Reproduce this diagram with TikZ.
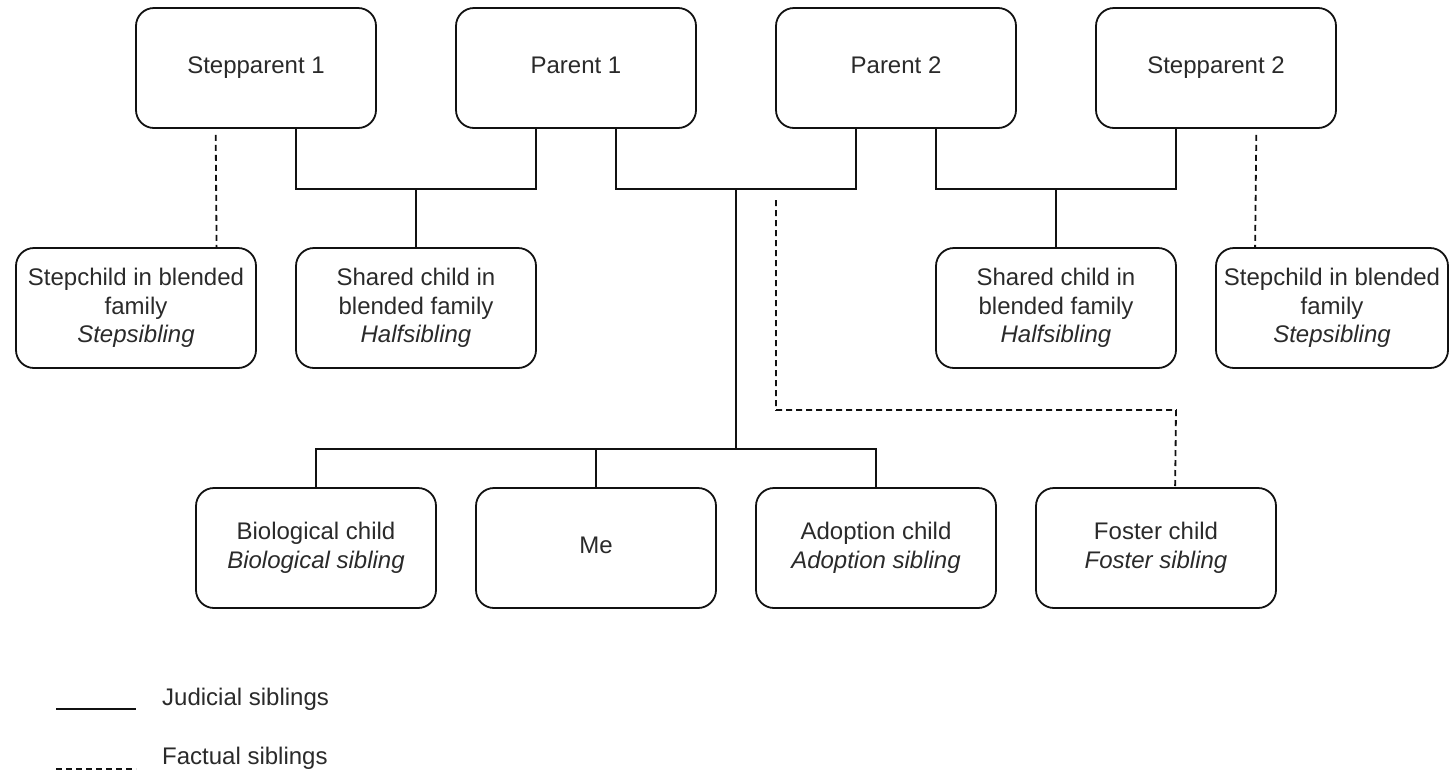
\documentclass[tikz,border=0pt]{standalone}
\usepackage{fontspec}
\setmainfont{Liberation Sans}
\usetikzlibrary{calc}
\definecolor{txt}{HTML}{2A2A2A}
\definecolor{ln}{HTML}{111111}
\tikzset{
  famBox/.style={draw=ln, rounded corners=18pt, minimum width=240pt, minimum height=120pt,
    align=center, inner sep=0pt, line width=1.8pt, text=txt,
    font=\fontsize{24pt}{28.5pt}\selectfont},
  solidLink/.style={draw=ln, line width=1.8pt},
  dashLink/.style={draw=ln, line width=1.8pt, dash pattern=on 6pt off 4pt},
  legendText/.style={anchor=west, text=txt, inner sep=0pt, font=\fontsize{24pt}{28pt}\selectfont}
}
\begin{document}
\begin{tikzpicture}[x=1pt,y=-1pt]
\useasboundingbox (0,0) rectangle (1450,772);
% top row
\node[famBox] (sp1) at (256,68) {Stepparent 1};
\node[famBox] (p1)  at (576,68) {Parent 1\vphantom{p}};
\node[famBox] (p2)  at (896,68) {Parent 2\vphantom{p}};
\node[famBox] (sp2) at (1216,68) {Stepparent 2};
% middle row
\node[famBox] (stc1) at (136,308) {Stepchild in blended\\family\\\textit{Stepsibling}};
\node[famBox] (shc1) at (416,308) {Shared child in\\blended family\\\textit{Halfsibling}};
\node[famBox] (shc2) at (1056,308) {Shared child in\\blended family\\\textit{Halfsibling}};
\node[famBox, minimum width=232pt] (stc2) at (1332,308) {Stepchild in blended\\family\\\textit{Stepsibling}};
% bottom row
\node[famBox] (bio) at (316,548) {Biological child\\\textit{Biological sibling}};
\node[famBox] (me)  at (596,548) {Me\vphantom{p}};
\node[famBox] (ado) at (876,548) {Adoption child\\\textit{Adoption sibling}};
\node[famBox] (fos) at (1156,548) {Foster child\\\textit{Foster sibling}};
% junctions
\coordinate (jA) at (416,189);
\coordinate (jB) at (736,189);
\coordinate (jD) at (1056,189);
\coordinate (jC) at (736,449);
\coordinate (fs) at (776,200);
\coordinate (fc) at (1176,410);
% stepparent 1 / parent 1
\draw[dashLink] ($(sp1.south west)!1/3!(sp1.south east)+(0,6)$) -- ($(stc1.north west)!5/6!(stc1.north east)$);
\draw[solidLink] ($(sp1.south west)!2/3!(sp1.south east)$) |- (jA) -| ($(p1.south west)!1/3!(p1.south east)$);
\draw[solidLink] (jA) -- (shc1.north);
% parent 1 / parent 2
\draw[solidLink] ($(p1.south west)!2/3!(p1.south east)$) |- (jB) -| ($(p2.south west)!1/3!(p2.south east)$);
\draw[solidLink] (jB) -- (jC);
\draw[solidLink] (bio.north) |- (jC) -| (ado.north);
\draw[solidLink] (me.north) -- (me.north |- jC);
\draw[dashLink] (fs) |- (fc) -- ($(fos.north west)+(140,0)$);
% parent 2 / stepparent 2
\draw[solidLink] ($(p2.south west)!2/3!(p2.south east)$) |- (jD) -| ($(sp2.south west)!1/3!(sp2.south east)$);
\draw[solidLink] (jD) -- (shc2.north);
\draw[dashLink] ($(sp2.south west)!2/3!(sp2.south east)+(0,6)$) -- ($(stc2.north west)+(40,0)$);
% legend
\coordinate (la1) at (56,709);
\coordinate (la2) at (136,709);
\coordinate (lb1) at (56,769);
\coordinate (lb2) at (136,769);
\draw[solidLink] (la1) -- (la2);
\draw[dashLink] (lb1) -- (lb2);
\node[legendText] (lt1) at (162,699) {Judicial siblings};
\node[legendText] (lt2) at (162,758) {Factual siblings};
\end{tikzpicture}
\end{document}
